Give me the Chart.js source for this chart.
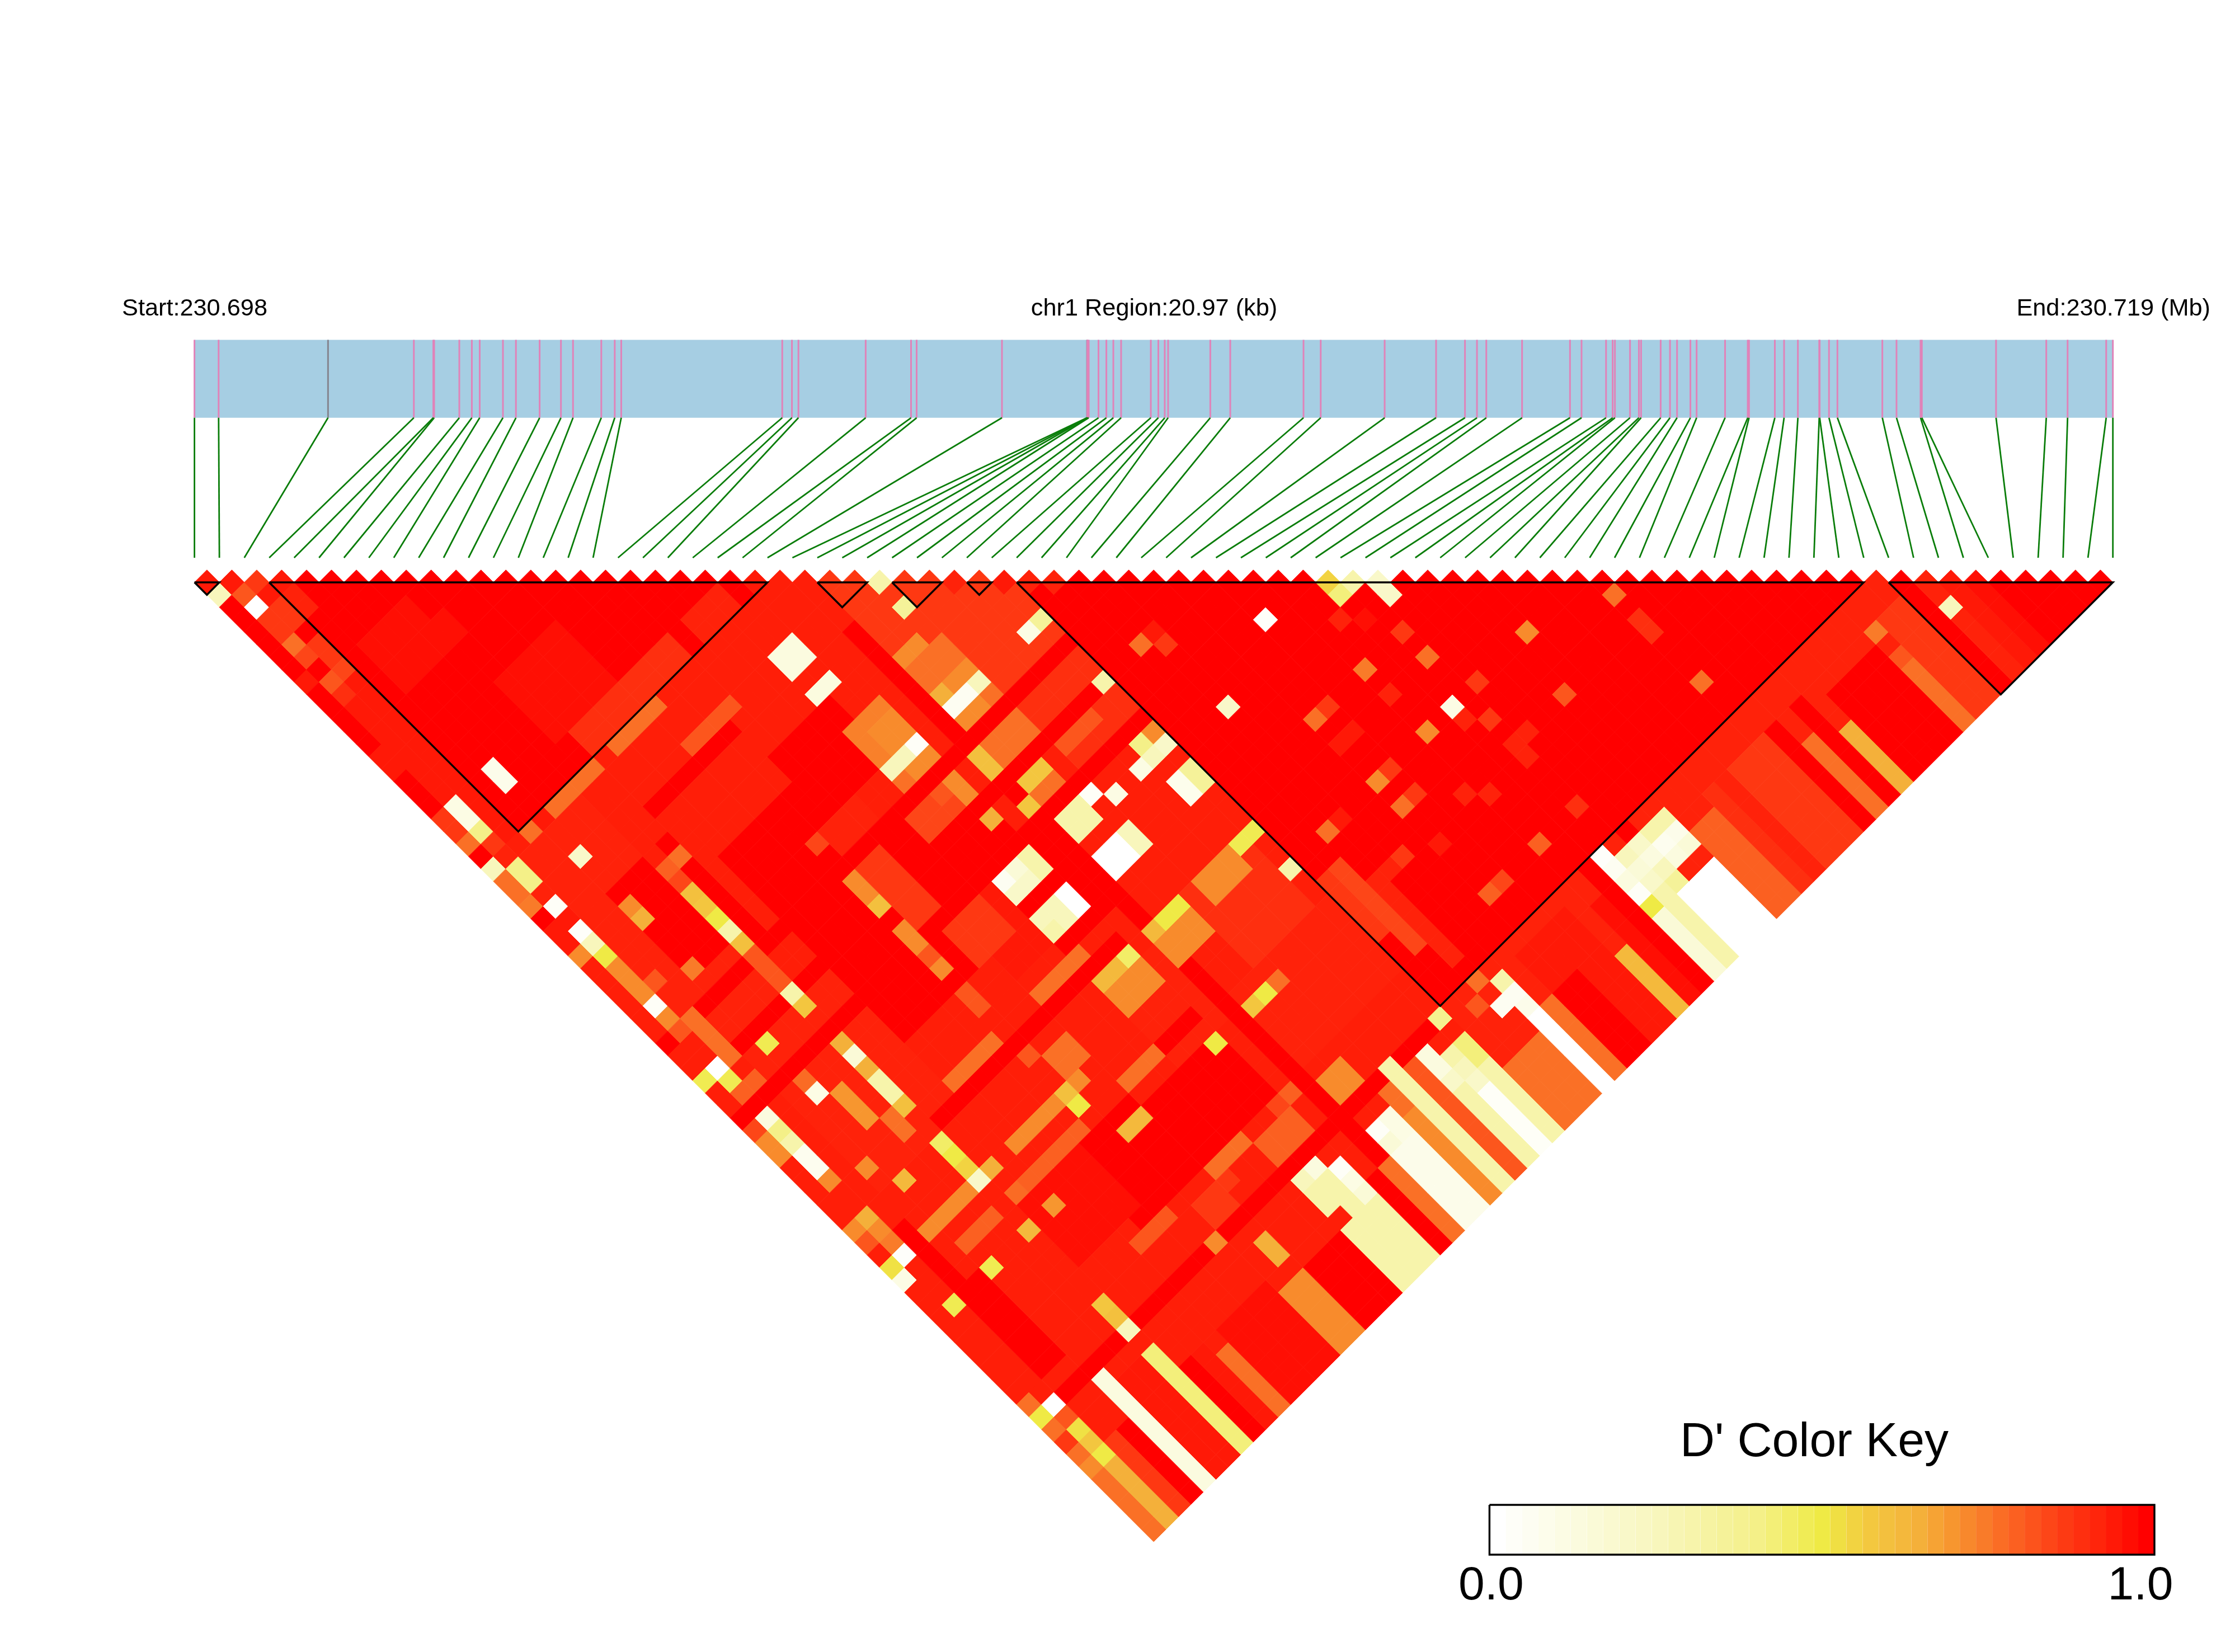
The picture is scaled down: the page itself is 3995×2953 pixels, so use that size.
<!DOCTYPE html>
<html>
<head>
<meta charset="utf-8">
<title>LD heatmap</title>
<script src="https://cdn.jsdelivr.net/npm/chart.js@4"></script>
<style>
  html, body { margin: 0; padding: 0; background: #fff; }
  canvas { display: block; }
</style>
</head>
<body>
<canvas id="ldChart" width="3995" height="2953"></canvas>
<script>
// SNP positions in kb from region start
const snpKb = [0,0.264,1.46,2.398,2.611,2.62,2.895,3.032,3.118,3.372,3.514,3.773,4.006,4.138,4.447,4.594,4.665,6.425,6.531,6.602,
  7.337,7.833,7.894,8.827,9.757,9.76,9.763,9.775,9.882,9.968,10.044,10.129,10.454,10.536,10.606,10.643,11.104,11.322,12.123,12.311,
  13.01,13.572,13.888,14.019,14.121,14.512,15.036,15.162,15.43,15.502,15.527,15.692,15.789,15.813,16.027,16.129,16.206,16.352,16.42,16.731,
  16.979,16.993,17.275,17.376,17.527,17.76,17.765,17.867,17.959,18.45,18.605,18.868,18.882,19.693,20.242,20.475,20.897,20.97];
const regionKb = 20.97;
const grayTicks = [2, 24];

// LD blocks: first and last SNP
const blockStart = [0, 3, 25, 28, 31, 33, 68];
const blockEnd = [1, 23, 27, 30, 32, 67, 77];

// areas of equal D': [first i, last i, first j, last j, D']
const patches = [
  [0,32,24,77,.94],[0,2,1,23,.95],[33,67,68,77,.93],
  [4,7,10,13,.97],[8,8,12,13,.97],[8,12,17,21,.97],[18,20,22,23,.93],[13,16,22,23,.9],[9,12,22,23,.9],
  [25,32,25,37,.88],[2,6,32,40,.93],[27,31,53,58,.9],[28,32,38,44,.9],[20,23,54,59,.93],[24,32,59,64,.93],
  [2,6,25,31,.93],[3,9,42,52,.93],
  [16,20,31,35,1],[10,16,33,38,1],[10,16,39,47,1],[14,22,60,64,1],[12,16,59,64,1],[17,22,38,47,1],[8,12,58,63,.97],
  [0,37,38,38,1],[0,37,41,41,1],[0,43,44,44,1],[24,24,29,72,1],[0,31,68,68,1],[20,24,45,50,1],[17,19,45,49,.95],
  [0,0,3,8,1],[0,0,10,14,1],[0,0,17,19,1],
  [2,2,55,66,1],[3,3,60,66,1],[8,8,30,37,1],[9,15,28,28,1],[4,6,30,36,1],[8,22,52,52,1],[20,22,58,58,1],
  [33,33,58,62,.88],[34,34,58,64,.85],[35,35,60,66,.93],
  [10,13,24,24,.77],[5,8,24,24,.77],[3,3,24,24,.77],[13,14,27,27,.82],[15,16,27,27,.82],
  [20,21,27,28,.12],[20,21,30,30,.12],
  [25,27,33,34,.77],[20,22,33,35,.74],[21,22,34,35,.72],
  [15,16,39,43,.88],[16,18,45,47,.88],[15,17,36,37,.93],[19,21,39,40,.85],[25,27,39,40,.77],[28,30,42,42,.82],[25,26,43,43,.77],[28,30,53,54,.72],
  [14,14,43,46,.72],[5,5,47,49,.7],[6,6,50,51,.77],[10,13,51,51,.77],[17,19,51,51,.77],[10,15,56,56,.72],[4,6,56,56,.72],[8,13,58,58,.8],[4,6,58,58,.8],
  [17,19,58,58,.77],[1,1,33,35,.72],[2,2,38,41,.77],[7,7,38,40,.82],
  [15,16,54,55,.77],[14,14,48,49,.82],[24,26,54,55,.72],[20,22,54,55,.72],[25,26,66,67,.72],[20,22,66,67,.8],[17,19,65,65,.77],
  [15,16,66,67,.88],[11,13,65,65,.82],
  [65,65,73,77,.77],[66,67,70,77,.88],[61,64,71,77,1],[60,60,73,77,.65],[59,59,70,77,1],[58,58,72,77,.77],[57,57,70,77,1],
  [54,56,70,77,.88],[53,53,70,77,.93],[52,52,70,77,.9],[50,51,71,77,.8],[47,49,73,77,0],[46,46,73,77,.3],[45,45,73,77,.15],
  [44,44,68,77,1],[43,43,70,77,.97],[38,41,69,77,.95],[42,42,73,77,.62],[38,39,72,77,1],[37,37,72,77,.77],[36,36,72,77,0],
  [33,35,73,77,.77],[32,32,73,77,.3],[31,31,73,77,.03],[30,30,73,77,.3],[29,29,72,77,.82],[28,28,72,77,.3],[27,27,72,77,.72],
  [25,26,72,77,.08],[24,24,72,77,.77],[23,23,72,77,1],[20,22,73,77,.3],[17,19,73,77,1],[15,16,73,77,.72],[11,14,72,77,.97],
  [10,10,73,77,.77],[9,9,72,77,.95],[8,8,72,77,1],[7,7,70,77,.42],[5,6,70,77,.95],[4,4,69,77,.12],[3,3,72,77,1],[2,2,72,77,.88],
  [1,1,73,77,.65],[0,0,73,77,.77],
  [69,69,70,77,.93],[70,70,71,77,.95],[71,71,72,77,.97],[68,68,69,77,1]
];

// single cells: [i, j, D']
const cells = [
  [0,2,.25],[1,3,.82],[2,3,.88],[1,4,0],[2,4,.95],[3,4,.95],[1,5,.88],[2,5,.88],[3,5,.93],[3,6,.93],[2,6,.88],[1,6,.88],[1,7,.77],[2,7,1],
  [1,8,.85],[2,8,.88],[2,9,.88],[1,9,1],[2,10,.85],[1,10,.82],[1,11,.9],[0,9,.95],[0,15,.95],[0,16,.95],
  [1,20,.1],[1,21,.1],[0,20,.88],[0,21,.88],[0,22,.77],[0,23,1],[0,24,.25],[0,25,.77],[0,26,.77],[0,27,.75],[0,28,1],[0,29,.95],[0,30,.95],[0,31,.72],
  [1,22,.4],[1,23,.88],[1,24,.93],[1,25,.4],[1,26,.4],[1,27,.93],[1,28,.03],[1,29,.95],[1,30,.02],[1,31,.25],[1,32,.5],
  [4,20,.08],[4,21,.08],[4,27,.2],[4,31,.72],[4,32,.65],[8,31,.77],[4,24,.95],
  [7,31,.8],[7,32,.85],[7,33,.6],[7,34,.58],[7,35,.5],[7,36,.3],[7,37,.6],[4,36,.75],[2,35,.82],[14,36,.85],
  [27,28,.3],[27,30,.35],[32,36,.35],[31,36,.1],[26,32,.72],[25,32,.72],[26,36,.05],[25,36,.05],[27,35,.72],[26,35,.72],[25,35,.65],[27,36,.25],
  [26,37,.72],[25,37,.72],[27,37,.77],[22,36,.03],[21,36,.25],[20,36,.25],[21,37,.72],[22,37,.72],[20,37,.77],
  [24,39,.6],[24,40,.6],[26,42,.58],[25,42,.58],[24,43,.58],[22,42,.65],[32,41,.3],[35,41,.77],[36,42,.88],[36,41,.95],
  [41,45,.02],[45,46,.55],[46,47,.3],[47,48,.2],[45,47,.42],[47,49,.2],[44,48,.93],[45,49,.97],[46,51,.88],[46,53,.77],[43,51,.75],[43,53,.93],
  [36,47,.2],[45,56,.1],[40,51,.88],[39,51,.77],[43,56,.72],[40,56,.88],[39,56,.72],[40,58,.88],[39,58,.77],[39,53,.95],[40,53,.95],[37,60,.88],[36,60,.93],
  [35,56,.77],[36,56,.95],[39,61,.95],[31,45,.4],[32,45,.72],[32,46,.2],[31,46,.25],[30,46,.1],[32,48,.35],[31,48,.07],[32,49,.35],[31,49,.07],
  [27,45,.03],[28,46,.1],[26,45,.3],[26,46,.3],[25,45,.3],[25,46,.3],[26,48,0],[27,48,.25],[27,49,.25],[25,49,0],[25,48,0],[26,49,0],
  [32,53,.48],[31,53,.48],[32,56,.3],[22,45,.3],[21,45,.15],[22,46,.3],[20,45,.05],[21,46,.2],[20,46,.2],[22,48,0],[22,49,0],[21,48,.25],[21,49,.25],
  [20,48,.25],[20,49,.3],[26,53,.5],[25,53,.5],[24,53,.62],[22,53,.45],[21,53,.62],[20,53,.62],[14,41,.6],[14,39,.72],[14,40,.72],[22,39,.72],[22,40,.72],[21,39,.82],
  [56,58,.77],[51,56,.72],[56,60,.9],[56,61,.9],[47,56,.88],[50,60,.82],[56,65,.77],[45,57,.93],[46,58,.88],[47,60,.93],[46,60,.93],[46,61,.93],
  [43,61,.93],[42,60,.93],[46,65,.9],[43,65,.8],[40,65,.85],[39,65,.8],
  [69,72,.25],[65,70,.75],[65,72,.82],[49,69,.3],[48,69,.3],[49,70,.08],[48,70,.06],[49,71,.15],[48,71,.12],[47,71,.25],[47,72,.35],[46,72,.3],[45,72,.5],
  [46,71,.2],[46,70,.15],[45,71,.03],[45,70,.12],[45,69,.05],[45,68,.02],[47,70,.12],[47,69,.2],[46,69,.25],[47,68,1],[46,68,.93],
  [26,60,.5],[25,60,.58],[27,60,.77],[22,60,.5],[23,65,.8],[22,65,.85],[26,66,.72],[26,70,.1],[25,70,.03],[26,71,.1],[25,71,.15],
  [32,70,.42],[31,70,.3],[32,71,.42],[31,71,.25],[30,69,.12],[30,70,.12],[30,71,.2],[30,72,.3],[31,72,.2],[32,72,.3],[28,68,.3],[28,69,.3],[28,70,.3],[28,71,.3],
  [29,69,.82],[29,70,.82],[29,71,.82],[27,69,.77],[27,70,.77],[27,71,.72],
  [36,69,.3],[36,70,.05],[36,71,.08],[35,70,.05],[32,68,.38],[35,68,.77],[34,69,.82],
  [21,69,.12],[21,70,.3],[20,69,.25],[20,70,.3],[20,71,.3],[22,70,.03],[22,71,.1],[22,72,.15],[21,71,.3],[21,72,.3],
  [16,60,.62],[15,60,.62],[13,65,.82],[17,66,.88],
  [7,41,.3],[7,42,.58],[1,36,.03],[1,37,.72],[4,42,.48],[1,41,0],[0,41,.48],[1,42,.48],[4,45,.78],[2,43,.8],[1,43,.8],[1,38,.82],
  [7,45,.65],[7,46,.15],[7,47,.65],[7,48,.3],[7,49,.3],[7,50,.6],[4,46,.1],[1,45,.12],[1,46,.4],[1,47,.3],[1,48,.06],[1,49,.06],[0,45,.85],[0,46,.72],[0,47,.72],
  [1,50,.72],[14,45,.82],[3,56,.72],[8,58,.78],
  [7,53,.45],[7,54,.5],[7,55,.55],[7,56,.2],[8,56,.65],[4,53,.62],[3,51,.72],[14,56,.6],[14,57,.5],[7,60,.62],[14,53,.82],[20,51,.77],[9,60,.7],
  [1,53,.65],[0,53,.72],[1,54,.72],[1,55,.75],[0,54,.82],
  [4,60,.48],[1,60,.48],[0,56,.52],[1,56,.02],[0,57,.1],[7,66,.58],[7,67,.6],[7,68,.25],[14,68,.72],[16,70,.65],[16,71,.65],
  [1,72,.5],[1,71,.58],[1,70,.52],[1,69,.82],[1,68,0],[0,72,.72],[0,71,.77],[0,70,.88],[0,69,.77],[0,68,.5],[0,67,.77],
  [30,31,.93],[32,33,.95],[33,34,.93],[34,35,.93],[22,23,.95],[69,70,.93],[70,71,.95]
];

const keyLevels = [0,.025,.05,.075,.1,.125,.15,.175,.2,.225,.25,.275,.3,.325,.35,.375,.4,.425,.45,.475,.5,
  .525,.55,.575,.6,.625,.65,.675,.7,.725,.75,.775,.8,.825,.85,.875,.9,.925,.95,.975,1];
const keyTicks = [0, 1];
const keyTickLabels = ['0.0', '1.0'];

// colour ramp of the key
const rampAt = [0,.12,.25,.4,.5,.58,.65,.7,.77,.86,.94,1];
const rampRgb = [[255,255,255],[251,251,223],[248,246,188],[244,240,136],[239,234,69],[243,198,63],[244,176,58],[247,150,47],[250,112,38],[253,65,22],[255,30,8],[255,0,0]];

function colorFor(v) {
  let k = 0;
  while (k < rampAt.length - 2 && v > rampAt[k + 1]) k++;
  const t = (v - rampAt[k]) / (rampAt[k + 1] - rampAt[k]);
  const c = rampRgb[k].map((a, n) => Math.round(a + (rampRgb[k + 1][n] - a) * t));
  return `rgb(${c[0]},${c[1]},${c[2]})`;
}

// layout, in pixels of the 3995x2953 picture
const snp0Px = 347.6, snp77Px = 3776.7, topRowPx = 1041;
const stepPx = (snp77Px - snp0Px) / 77;
const rowPx = 22.27;
const pxToRow = px => (px - topRowPx) / rowPx;
const bandTop = pxToRow(607.5), bandBottom = pxToRow(746.8), linkBottom = pxToRow(997);
const keyTop = pxToRow(2690), keyBottom = pxToRow(2779);
const keyLeftPx = 2662.4, keyRightPx = 3851;

// matrix of D' between SNP i and SNP j
const nSnp = snpKb.length;
const dPrime = [];
for (let i = 0; i < nSnp; i++) dPrime.push(new Array(nSnp).fill(1));
patches.forEach(p => {
  for (let i = p[0]; i <= p[1]; i++) for (let j = Math.max(p[2], i + 1); j <= p[3]; j++) dPrime[i][j] = p[4];
});
cells.forEach(c => { dPrime[c[0]][c[1]] = c[2]; });

const heatPoints = [];
for (let i = 0; i < nSnp; i++) {
  for (let j = i + 1; j < nSnp; j++) {
    heatPoints.push({ x: (i + j) / 2, y: j - i - 1, v: dPrime[i][j] });
  }
}

const kbToX = kb => kb * (nSnp - 1) / regionKb;
const hidden = { type: 'linear', display: false };
const datasets = [];

// segment keeps chart.js off its fast path so vertical lines are drawn too
const lineSet = (data, color, width, extra) => Object.assign({
  data: data, borderColor: color, borderWidth: width, pointRadius: 0, fill: false, tension: 0, stepped: false, segment: {}
}, extra || {});

// blue gene band
datasets.push(lineSet([{ x: 0, y: bandTop }, { x: nSnp - 1, y: bandTop }], '#a6cee3', 0, {
  backgroundColor: '#a6cee3', fill: { value: bandBottom }
}));

// pink ticks and green links
snpKb.forEach((kb, n) => {
  const tick = grayTicks.includes(n) ? '#85858f' : '#e083b9';
  datasets.push(lineSet([{ x: kbToX(kb), y: bandTop }, { x: kbToX(kb), y: bandBottom }], tick, 3));
  datasets.push(lineSet([{ x: kbToX(kb), y: bandBottom }, { x: n, y: linkBottom }], '#0a7d0a', 2.8));
});

// heatmap diamonds
datasets.push({
  data: heatPoints,
  showLine: false,
  pointStyle: 'rectRot',
  pointBorderWidth: 1,
  pointRadius: c => (c.chart.scales.x.getPixelForValue(1) - c.chart.scales.x.getPixelForValue(0)) / 2,
  pointBackgroundColor: c => colorFor(c.raw.v),
  pointBorderColor: c => colorFor(c.raw.v)
});

// LD block outlines
blockStart.forEach((a, n) => {
  const b = blockEnd[n];
  datasets.push(lineSet([{ x: a, y: 0 }, { x: (a + b) / 2, y: b - a }, { x: b, y: 0 }, { x: a, y: 0 }], '#000', 3.4));
});

// colour key
keyLevels.forEach((v, n) => {
  datasets.push(lineSet([{ x: n / keyLevels.length, y: keyTop }, { x: (n + 1) / keyLevels.length, y: keyTop }], colorFor(v), 0, {
    xAxisID: 'xKey', backgroundColor: colorFor(v), fill: { value: keyBottom }
  }));
});
datasets.push(lineSet([{ x: 0, y: keyTop }, { x: 1, y: keyTop }, { x: 1, y: keyBottom }, { x: 0, y: keyBottom }, { x: 0, y: keyTop }], '#000', 3.4, { xAxisID: 'xKey' }));

// chart.js paints the first dataset last
datasets.reverse();

const textPlugin = {
  id: 'textPlugin',
  afterDatasetsDraw(chart) {
    const ctx = chart.ctx;
    ctx.save();
    ctx.fillStyle = '#000';
    ctx.textBaseline = 'alphabetic';
    ctx.font = '43.3px "Liberation Sans"';
    ctx.textAlign = 'left';
    ctx.fillText('Start:230.698', 218, 564);
    ctx.textAlign = 'center';
    ctx.fillText('chr1 Region:20.97 (kb)', 2063, 564);
    ctx.textAlign = 'right';
    ctx.fillText('End:230.719 (Mb)', 3951, 564);
    ctx.textAlign = 'center';
    ctx.font = '86px "Liberation Sans"';
    ctx.fillText("D' Color Key", 3243, 2603);
    ctx.font = '84px "Liberation Sans"';
    keyTicks.forEach((t, n) => {
      ctx.fillText(keyTickLabels[n], chart.scales.xKey.getPixelForValue(t) + (t ? -25 : 3), 2859);
    });
    ctx.restore();
  }
};

new Chart(document.getElementById('ldChart'), {
  type: 'line',
  data: { datasets: datasets },
  plugins: [textPlugin],
  options: {
    responsive: false,
    animation: false,
    events: [],
    layout: { padding: 0 },
    plugins: { legend: { display: false }, tooltip: { enabled: false }, title: { display: false } },
    scales: {
      x: Object.assign({}, hidden, { min: -snp0Px / stepPx, max: (3995 - snp0Px) / stepPx }),
      xKey: Object.assign({}, hidden, {
        min: -keyLeftPx / (keyRightPx - keyLeftPx),
        max: (3995 - keyLeftPx) / (keyRightPx - keyLeftPx)
      }),
      y: Object.assign({}, hidden, { reverse: true, min: -topRowPx / rowPx, max: (2953 - topRowPx) / rowPx })
    }
  }
});
</script>
</body>
</html>
